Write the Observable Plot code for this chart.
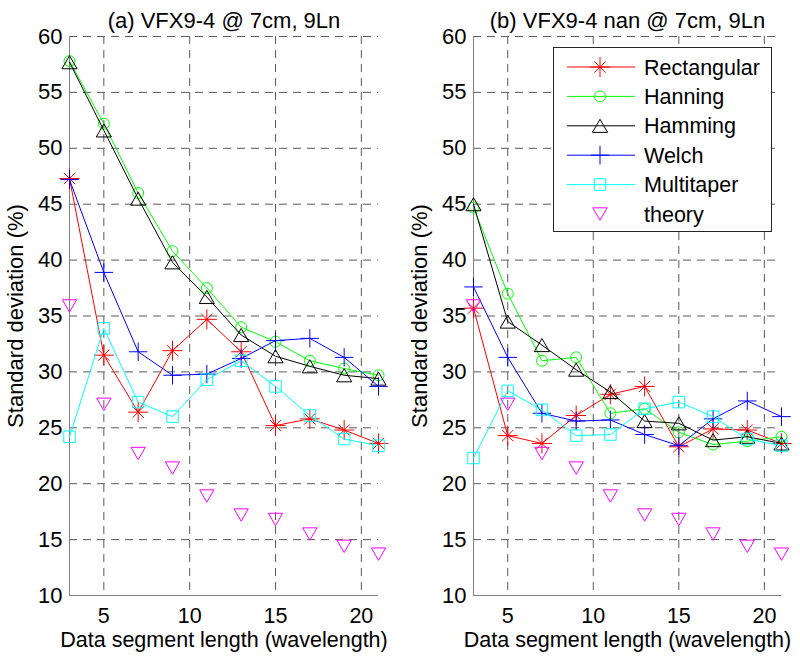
<!DOCTYPE html>
<html><head><meta charset="utf-8">
<script src="https://cdn.jsdelivr.net/npm/d3@7"></script>
<script src="https://cdn.jsdelivr.net/npm/@observablehq/plot@0.6"></script>
<style>
body{margin:0;background:#fff;}
#wrap{position:relative;width:800px;height:664px;display:flex;font-family:"Liberation Sans",Arial,sans-serif;}
</style></head><body><div id="wrap"></div>
<script>
// ---- data ----
const segLength = [3, 5, 7, 9, 11, 13, 15, 17, 19, 21];
const xTicks = [5, 10, 15, 20];
const yTicks = [10, 15, 20, 25, 30, 35, 40, 45, 50, 55, 60];
const yGridTicks = [15, 20, 25, 30, 35, 40, 45, 50, 55, 60];
const xDomain = [3, 21];
const yDomain = [10, 60];
const seriesNames = ["Rectangular", "Hanning", "Hamming", "Welch", "Multitaper", "theory"];
const seriesColors = ["#ff0000", "#00ff00", "#000000", "#0000ff", "#00ffff", "#ff00ff"];
const titleA = "(a) VFX9-4 @ 7cm, 9Ln";
const titleB = "(b) VFX9-4 nan @ 7cm, 9Ln";
const xLabel = "Data segment length (wavelength)";
const yLabel = "Standard deviation (%)";

// panel (a)
const rectA  = [47.3, 31.5, 26.4, 31.9, 34.7, 31.8, 25.2, 25.8, 24.8, 23.6];
const hannA  = [57.8, 52.2, 46.0, 40.8, 37.5, 34.0, 32.7, 31.0, 30.3, 29.7];
const hammA  = [57.7, 51.6, 45.5, 39.8, 36.7, 33.3, 31.4, 30.5, 29.7, 29.4];
const welchA = [47.2, 38.9, 31.8, 29.7, 29.8, 31.2, 32.8, 33.0, 31.3, 28.7];
const multiA = [24.2, 33.9, 27.3, 26.0, 29.3, 31.0, 28.7, 26.1, 24.0, 23.4];
const theory = [35.9, 27.1, 22.7, 21.4, 18.9, 17.2, 16.8, 15.5, 14.4, 13.7];
// panel (b)
const rectB  = [35.7, 24.3, 23.6, 26.1, 28.0, 28.7, 23.3, 24.9, 24.8, 23.6];
const hannB  = [44.7, 37.0, 31.0, 31.3, 26.3, 26.7, 24.6, 23.5, 23.8, 24.2];
const hammB  = [45.0, 34.5, 32.4, 30.2, 28.2, 25.6, 25.4, 23.9, 24.2, 23.6];
const welchB = [37.6, 31.3, 26.3, 25.6, 25.7, 24.4, 23.4, 25.8, 27.4, 26.0];
const multiB = [22.3, 28.3, 26.6, 24.3, 24.4, 26.7, 27.3, 26.0, 24.0, 23.4];

// ---- symbols (bbox-centred triangles like MATLAB) ----
const triUp = {draw(ctx, size) {
  const s = Math.sqrt(size / Math.PI) * 2.7, h = s * 0.866;
  ctx.moveTo(0, -h / 2); ctx.lineTo(s / 2, h / 2); ctx.lineTo(-s / 2, h / 2); ctx.closePath();
}};
const triDown = {draw(ctx, size) {
  const s = Math.sqrt(size / Math.PI) * 2.7, h = s * 0.866;
  ctx.moveTo(0, h / 2); ctx.lineTo(s / 2, -h / 2); ctx.lineTo(-s / 2, -h / 2); ctx.closePath();
}};
// marker specs per series: list of [symbol, r]
const markerSpecs = [
  [["plus", 6.5], ["times", 5.2]],
  [["circle", 5.5]],
  [[triUp, 5.6]],
  [["plus", 6]],
  [["square", 6.5]],
  [[triDown, 5.3]]
];

const font = '"Liberation Sans", Arial, sans-serif';

function panel(seriesVals, title, ml, mr) {
  const marks = [
    Plot.gridX(xTicks, {stroke: "#5a5a5a", strokeOpacity: 1, strokeDasharray: "8,6"}),
    Plot.gridY(yGridTicks, {stroke: "#5a5a5a", strokeOpacity: 1, strokeDasharray: "8,6"}),
    Plot.ruleX([xDomain[0]], {stroke: "#808080"}),
    Plot.ruleY([yDomain[0]], {stroke: "#808080"}),
    Plot.axisX(xTicks, {tickSize: 0, tickPadding: 12, label: null, fontSize: 21.5}),
    Plot.axisY(yTicks, {tickSize: 0, tickPadding: 7, label: null, fontSize: 22})
  ];
  seriesVals.forEach((vals, k) => {
    const rows = segLength.map((x, i) => ({x, y: vals[i]}));
    if (k < 5) marks.push(Plot.line(rows, {x: "x", y: "y", stroke: seriesColors[k], strokeWidth: 1}));
    for (const [sym, r] of markerSpecs[k]) {
      marks.push(Plot.dot(rows, {x: "x", y: "y", symbol: sym, r, fill: "none", stroke: seriesColors[k], strokeWidth: 1}));
    }
  });
  marks.push(
    Plot.text([title], {text: d => d, frameAnchor: "top", textAnchor: "middle", dy: -24, fontSize: 22}),
    Plot.text([yLabel], {text: d => d, frameAnchor: "left", textAnchor: "middle", dx: -54, rotate: -90, fontSize: 22}),
    Plot.text([xLabel], {text: d => d, frameAnchor: "bottom", textAnchor: "middle", dy: 51, fontSize: 21.5})
  );
  return Plot.plot({
    width: 400, height: 664,
    marginLeft: ml, marginRight: mr, marginTop: 36, marginBottom: 69,
    style: {fontFamily: font, fontSize: "22px", color: "#000", background: "#fff", overflow: "visible"},
    x: {domain: xDomain},
    y: {domain: yDomain},
    marks
  });
}

const wrap = document.getElementById("wrap");
wrap.append(panel([rectA, hannA, hammA, welchA, multiA, theory], titleA, 69, 22));
wrap.append(panel([rectB, hannB, hammB, welchB, multiB, theory], titleB, 73, 19));

// ---- legend ----
const lw = 219, lh = 185;
const leg = d3.create("svg").attr("width", lw).attr("height", lh)
  .style("position", "absolute").style("left", "553px").style("top", "47px");
leg.append("rect").attr("x", 0.5).attr("y", 0.5).attr("width", lw - 1).attr("height", lh - 1)
  .attr("fill", "#fff").attr("stroke", "#262626");
const symTypes = {plus: d3.symbolPlus, times: d3.symbolTimes, circle: d3.symbolCircle, square: d3.symbolSquare};
seriesNames.forEach((name, k) => {
  const cy = 20 + k * 29.4;
  const g = leg.append("g");
  if (k < 5) g.append("line").attr("x1", 14).attr("x2", 82).attr("y1", cy).attr("y2", cy)
    .attr("stroke", seriesColors[k]).attr("stroke-width", 1);
  for (const [sym, r] of markerSpecs[k]) {
    const type = typeof sym === "string" ? symTypes[sym] : sym;
    g.append("path").attr("d", d3.symbol(type, Math.PI * r * r)())
      .attr("transform", `translate(47,${cy})`).attr("fill", "none").attr("stroke", seriesColors[k]);
  }
  g.append("text").attr("x", 91).attr("y", cy).attr("dy", "0.35em")
    .attr("font-family", font).attr("font-size", 21.5).text(name);
});
wrap.append(leg.node());
</script></body></html>
